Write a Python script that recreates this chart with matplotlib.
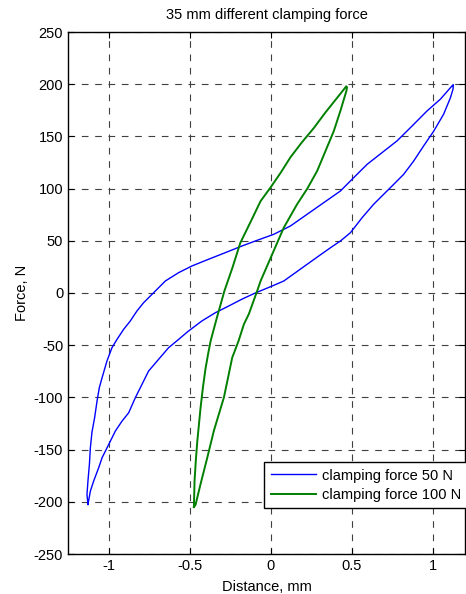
import matplotlib
matplotlib.use("Agg")
import matplotlib.pyplot as plt

# clamping force 50 N loop (distance mm, force N)
dist_50 = [-1.127, -1.133, -1.127, -1.118, -1.112, -1.102, -1.086, -1.071, -1.057, -1.040,
           -1.010, -0.979, -0.948, -0.907, -0.866, -0.825, -0.784, -0.722, -0.650, -0.568,
           -0.486, -0.384, -0.281, -0.178, -0.096, 0.018, 0.121, 0.224, 0.326, 0.429,
           0.511, 0.594, 0.686, 0.778, 0.871, 0.963, 1.045, 1.117, 1.125,
           1.123, 1.107, 1.065, 1.004, 0.942, 0.881, 0.819, 0.757, 0.696, 0.634,
           0.563, 0.491, 0.429, 0.368, 0.296, 0.224, 0.152, 0.080, -0.002, -0.096,
           -0.179, -0.260, -0.342, -0.425, -0.507, -0.568, -0.630, -0.692, -0.753, -0.835,
           -0.876, -0.917, -0.958, -1.004, -1.040, -1.061, -1.092, -1.112, -1.127]
force_50 = [-202.5, -193, -180, -164, -148, -133, -119.5, -103.5, -90.7, -81.2,
            -65.2, -52.4, -44.4, -34.8, -26.8, -17.2, -9.3, 0.3, 11.5, 19.5,
            25.9, 32.3, 38.6, 45, 49.8, 56.2, 64.2, 75.4, 86.5, 97.7,
            110.5, 123.3, 134.5, 145.7, 160, 174.4, 185.6, 198.4, 199.5,
            195.2, 187, 171.2, 155, 140.9, 126.5, 113.7, 104, 94.6, 85,
            72.2, 57.8, 49.8, 43.4, 35.5, 27.5, 19.5, 11.5, 6, 0,
            -6, -12.5, -18.9, -26.8, -36.4, -44.4, -52.4, -63.6, -74.7, -100.3,
            -114.7, -122.7, -132.2, -146.6, -157.8, -167.4, -180.2, -189.7, -202.5]

# clamping force 100 N loop
dist_100 = [-0.474, -0.470, -0.462, -0.453, -0.443, -0.433, -0.418, -0.402, -0.386, -0.371,
            -0.352, -0.333, -0.286, -0.237, -0.188, -0.125, -0.063, -0.002, 0.060, 0.121,
            0.190, 0.265, 0.337, 0.409, 0.445, 0.465,
            0.470, 0.466, 0.430, 0.388, 0.337, 0.286, 0.225, 0.162, 0.080, 0.000,
            -0.063, -0.084, -0.135, -0.166, -0.199, -0.238, -0.289, -0.351, -0.392, -0.433,
            -0.464, -0.474]
force_100 = [-205, -180, -160, -142, -126, -110, -90, -72, -58, -46,
             -35, -24, 2, 24, 48, 68, 88, 101, 115, 130,
             144, 158, 173, 187, 194, 198,
             197, 193.6, 175, 155, 136, 117, 100, 85, 62.6, 34,
             11.5, 2, -20, -30, -46, -62, -100, -132, -158, -183,
             -203, -205]

plt.rcParams["font.family"] = ["Liberation Sans", "DejaVu Sans"]
plt.rcParams["font.size"] = 10.5
plt.rcParams["axes.unicode_minus"] = False

fig = plt.figure(figsize=(4.66, 5.94), dpi=100)
ax = fig.add_axes([68 / 466, 40 / 594, 397.5 / 466, 522 / 594])

ax.plot(dist_50, force_50, color=(0, 0, 1), lw=1.0, label="clamping force 50 N")
ax.plot(dist_100, force_100, color=(0, 0.5, 0), lw=1.4, label="clamping force 100 N")

ax.set_xlim(-1.25, 1.2)
ax.set_ylim(-250, 250)
ax.set_xticks([-1, -0.5, 0, 0.5, 1])
ax.set_xticklabels(["-1", "-0.5", "0", "0.5", "1"])
ax.set_yticks(range(-250, 251, 50))
ax.tick_params(direction="in", length=4, width=0.8, top=True, right=True)

ax.grid(True, color="0.25", linestyle=(0, (6, 6)), linewidth=0.8)
for s in ax.spines.values():
    s.set_linewidth(1.0)

ax.set_title("35 mm different clamping force", fontsize=10.5, pad=9)
ax.set_xlabel("Distance, mm", labelpad=5)
ax.set_ylabel("Force, N", labelpad=3)

leg = ax.legend(loc="upper left", bbox_to_anchor=(264 / 466, (594 - 462) / 594),
                bbox_transform=fig.transFigure, fancybox=False, framealpha=1,
                edgecolor="black", borderpad=0.45, handlelength=3.1, handletextpad=0.45,
                labelspacing=0.35, borderaxespad=0.0)
leg.get_frame().set_linewidth(1.0)

fig.savefig("out.png", dpi=100)
